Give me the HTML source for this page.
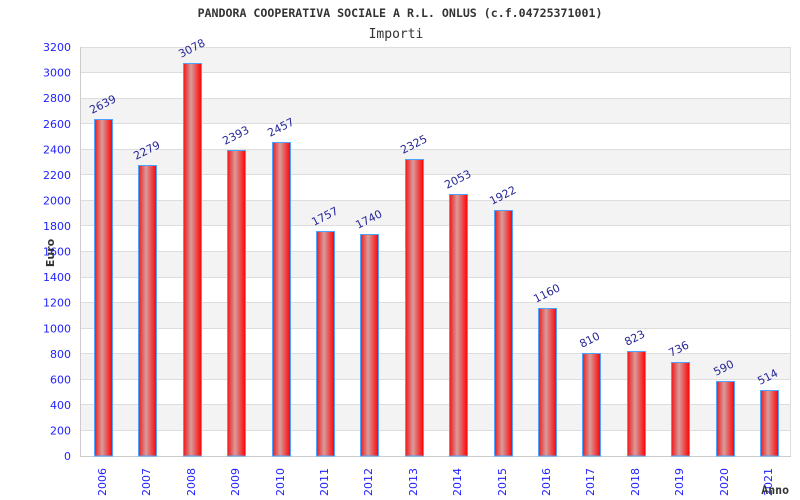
<!DOCTYPE html>
<html><head><meta charset="utf-8"><style>
html,body{margin:0;padding:0;background:#fff;}
svg{display:block;}
.yt{font-family:"DejaVu Sans","Liberation Sans",sans-serif;font-size:11px;fill:#1f1fff;text-anchor:end;}
.xt{font-family:"DejaVu Sans","Liberation Sans",sans-serif;font-size:11px;fill:#1f1fff;text-anchor:end;}
.vl{font-family:"DejaVu Sans","Liberation Sans",sans-serif;font-size:11px;fill:#262696;}
</style></head><body>
<svg width="800" height="500" viewBox="0 0 800 500" xmlns="http://www.w3.org/2000/svg">
<defs>
<linearGradient id="g" x1="0" y1="0" x2="1" y2="0">
<stop offset="0" stop-color="#f01818"/>
<stop offset="0.42" stop-color="#d89c9c"/>
<stop offset="1" stop-color="#ff0000"/>
</linearGradient>
</defs>
<rect width="800" height="500" fill="#fff"/>
<text x="400" y="17" text-anchor="middle" font-family="DejaVu Sans Mono, Liberation Mono, monospace" font-weight="bold" font-size="11.6" fill="#333">PANDORA COOPERATIVA SOCIALE A R.L. ONLUS (c.f.04725371001)</text>
<text x="396" y="38" text-anchor="middle" font-family="DejaVu Sans Mono, Liberation Mono, monospace" font-size="13" fill="#333">Importi</text>
<g fill="#f3f3f3">
<rect x="80" y="404.9" width="710" height="25.56"/>
<rect x="80" y="353.8" width="710" height="25.56"/>
<rect x="80" y="302.6" width="710" height="25.56"/>
<rect x="80" y="251.5" width="710" height="25.56"/>
<rect x="80" y="200.4" width="710" height="25.56"/>
<rect x="80" y="149.3" width="710" height="25.56"/>
<rect x="80" y="98.1" width="710" height="25.56"/>
<rect x="80" y="47" width="710" height="25.56"/>
</g>
<g stroke="#dddddd" stroke-width="1">
<line x1="80" x2="790" y1="430.5" y2="430.5"/>
<line x1="80" x2="790" y1="404.5" y2="404.5"/>
<line x1="80" x2="790" y1="379.5" y2="379.5"/>
<line x1="80" x2="790" y1="353.5" y2="353.5"/>
<line x1="80" x2="790" y1="328.5" y2="328.5"/>
<line x1="80" x2="790" y1="302.5" y2="302.5"/>
<line x1="80" x2="790" y1="277.5" y2="277.5"/>
<line x1="80" x2="790" y1="251.5" y2="251.5"/>
<line x1="80" x2="790" y1="225.5" y2="225.5"/>
<line x1="80" x2="790" y1="200.5" y2="200.5"/>
<line x1="80" x2="790" y1="174.5" y2="174.5"/>
<line x1="80" x2="790" y1="149.5" y2="149.5"/>
<line x1="80" x2="790" y1="123.5" y2="123.5"/>
<line x1="80" x2="790" y1="98.5" y2="98.5"/>
<line x1="80" x2="790" y1="72.5" y2="72.5"/>
<line x1="80" x2="790" y1="47.5" y2="47.5"/>
<line x1="790.5" x2="790.5" y1="47" y2="456"/>
</g>
<g stroke="#cccccc" stroke-width="1">
<line x1="80.5" x2="80.5" y1="47" y2="457"/>
<line x1="80" x2="791" y1="456.5" y2="456.5"/>
</g>
<g class="yt">
<text x="71" y="460">0</text>
<text x="71" y="434.5">200</text>
<text x="71" y="409">400</text>
<text x="71" y="383.4">600</text>
<text x="71" y="357.8">800</text>
<text x="71" y="332.3">1000</text>
<text x="71" y="306.7">1200</text>
<text x="71" y="281.2">1400</text>
<text x="71" y="255.6">1600</text>
<text x="71" y="230">1800</text>
<text x="71" y="204.5">2000</text>
<text x="71" y="178.9">2200</text>
<text x="71" y="153.4">2400</text>
<text x="71" y="127.8">2600</text>
<text x="71" y="102.2">2800</text>
<text x="71" y="76.7">3000</text>
<text x="71" y="51.1">3200</text>
</g>
<text transform="translate(54,253) rotate(-90)" text-anchor="middle" font-family="DejaVu Sans, Liberation Sans, sans-serif" font-weight="bold" font-size="11" fill="#333">Euro</text>
<g fill="url(#g)" stroke="#4da3ff" stroke-width="1">
<rect x="94.5" y="119.5" width="18" height="336.5"/>
<rect x="138.5" y="165.5" width="18" height="290.5"/>
<rect x="183.5" y="63.5" width="18" height="392.5"/>
<rect x="227.5" y="150.5" width="18" height="305.5"/>
<rect x="272.5" y="142.5" width="18" height="313.5"/>
<rect x="316.5" y="231.5" width="18" height="224.5"/>
<rect x="360.5" y="234.5" width="18" height="221.5"/>
<rect x="405.5" y="159.5" width="18" height="296.5"/>
<rect x="449.5" y="194.5" width="18" height="261.5"/>
<rect x="494.5" y="210.5" width="18" height="245.5"/>
<rect x="538.5" y="308.5" width="18" height="147.5"/>
<rect x="582.5" y="353.5" width="18" height="102.5"/>
<rect x="627.5" y="351.5" width="18" height="104.5"/>
<rect x="671.5" y="362.5" width="18" height="93.5"/>
<rect x="716.5" y="381.5" width="18" height="74.5"/>
<rect x="760.5" y="390.5" width="18" height="65.5"/>
</g>
<g class="vl">
<text transform="translate(92,114) rotate(-27)">2639</text>
<text transform="translate(136,160) rotate(-27)">2279</text>
<text transform="translate(181,58) rotate(-27)">3078</text>
<text transform="translate(225,145) rotate(-27)">2393</text>
<text transform="translate(270,137) rotate(-27)">2457</text>
<text transform="translate(314,226) rotate(-27)">1757</text>
<text transform="translate(358,229) rotate(-27)">1740</text>
<text transform="translate(403,154) rotate(-27)">2325</text>
<text transform="translate(447,189) rotate(-27)">2053</text>
<text transform="translate(492,205) rotate(-27)">1922</text>
<text transform="translate(536,303) rotate(-27)">1160</text>
<text transform="translate(582,348) rotate(-27)">810</text>
<text transform="translate(627,346) rotate(-27)">823</text>
<text transform="translate(671,357) rotate(-27)">736</text>
<text transform="translate(716,376) rotate(-27)">590</text>
<text transform="translate(760,385) rotate(-27)">514</text>
</g>
<g class="xt">
<text transform="translate(106,468) rotate(-90)">2006</text>
<text transform="translate(150,468) rotate(-90)">2007</text>
<text transform="translate(195,468) rotate(-90)">2008</text>
<text transform="translate(239,468) rotate(-90)">2009</text>
<text transform="translate(284,468) rotate(-90)">2010</text>
<text transform="translate(328,468) rotate(-90)">2011</text>
<text transform="translate(372,468) rotate(-90)">2012</text>
<text transform="translate(417,468) rotate(-90)">2013</text>
<text transform="translate(461,468) rotate(-90)">2014</text>
<text transform="translate(506,468) rotate(-90)">2015</text>
<text transform="translate(550,468) rotate(-90)">2016</text>
<text transform="translate(594,468) rotate(-90)">2017</text>
<text transform="translate(639,468) rotate(-90)">2018</text>
<text transform="translate(683,468) rotate(-90)">2019</text>
<text transform="translate(728,468) rotate(-90)">2020</text>
<text transform="translate(772,468) rotate(-90)">2021</text>
</g>
<text x="789" y="494" text-anchor="end" font-family="DejaVu Sans Mono, Liberation Mono, monospace" font-weight="bold" font-size="11.5" fill="#333">Anno</text>
</svg>
</body></html>
